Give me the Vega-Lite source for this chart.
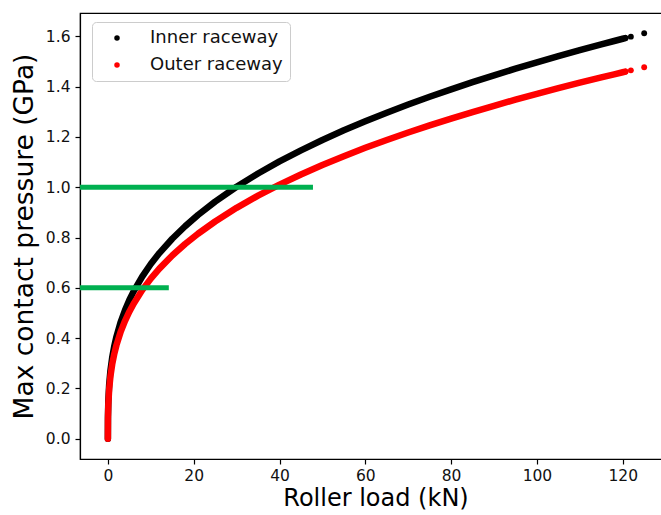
{
  "$schema": "https://vega.github.io/schema/vega-lite/v6.json",
  "width": 591,
  "height": 446,
  "autosize": "none",
  "padding": {"left": 80, "top": 13, "right": 4, "bottom": 56},
  "background": "white",
  "config": {
    "font": "DejaVu Sans",
    "view": {"stroke": "black", "strokeWidth": 1.2},
    "axis": {
      "domainColor": "black", "tickColor": "black", "labelColor": "#111111", "titleColor": "black",
      "labelFont": "DejaVu Sans", "titleFont": "DejaVu Sans",
      "labelFontSize": 15.5, "titleFontSize": 26.5, "titleFontWeight": "normal",
      "tickSize": 5, "grid": false, "domainWidth": 1.2, "tickWidth": 1.2
    }
  },
  "datasets": {
    "curves": [
      {"Q": 0, "p": 0, "s": "Inner raceway"},
      {"Q": 0.02, "p": 0.0875, "s": "Inner raceway"},
      {"Q": 0.1, "p": 0.1497, "s": "Inner raceway"},
      {"Q": 0.3, "p": 0.2158, "s": "Inner raceway"},
      {"Q": 0.6, "p": 0.2719, "s": "Inner raceway"},
      {"Q": 1, "p": 0.3224, "s": "Inner raceway"},
      {"Q": 1.5, "p": 0.3691, "s": "Inner raceway"},
      {"Q": 2, "p": 0.4062, "s": "Inner raceway"},
      {"Q": 3, "p": 0.465, "s": "Inner raceway"},
      {"Q": 4, "p": 0.5118, "s": "Inner raceway"},
      {"Q": 5, "p": 0.5513, "s": "Inner raceway"},
      {"Q": 6, "p": 0.5858, "s": "Inner raceway"},
      {"Q": 8, "p": 0.6448, "s": "Inner raceway"},
      {"Q": 10, "p": 0.6946, "s": "Inner raceway"},
      {"Q": 12, "p": 0.7381, "s": "Inner raceway"},
      {"Q": 15, "p": 0.7951, "s": "Inner raceway"},
      {"Q": 18, "p": 0.8449, "s": "Inner raceway"},
      {"Q": 21, "p": 0.8895, "s": "Inner raceway"},
      {"Q": 25, "p": 0.9427, "s": "Inner raceway"},
      {"Q": 30, "p": 1.0018, "s": "Inner raceway"},
      {"Q": 35, "p": 1.0546, "s": "Inner raceway"},
      {"Q": 40, "p": 1.1026, "s": "Inner raceway"},
      {"Q": 45, "p": 1.1467, "s": "Inner raceway"},
      {"Q": 50, "p": 1.1877, "s": "Inner raceway"},
      {"Q": 55, "p": 1.2261, "s": "Inner raceway"},
      {"Q": 60, "p": 1.2622, "s": "Inner raceway"},
      {"Q": 65, "p": 1.2963, "s": "Inner raceway"},
      {"Q": 70, "p": 1.3287, "s": "Inner raceway"},
      {"Q": 75, "p": 1.3596, "s": "Inner raceway"},
      {"Q": 80, "p": 1.3892, "s": "Inner raceway"},
      {"Q": 85, "p": 1.4175, "s": "Inner raceway"},
      {"Q": 90, "p": 1.4448, "s": "Inner raceway"},
      {"Q": 95, "p": 1.4711, "s": "Inner raceway"},
      {"Q": 100, "p": 1.4965, "s": "Inner raceway"},
      {"Q": 105, "p": 1.521, "s": "Inner raceway"},
      {"Q": 110, "p": 1.5447, "s": "Inner raceway"},
      {"Q": 115, "p": 1.5678, "s": "Inner raceway"},
      {"Q": 118, "p": 1.5813, "s": "Inner raceway"},
      {"Q": 120, "p": 1.5902, "s": "Inner raceway"},
      {"Q": 120.6, "p": 1.5928, "s": "Inner raceway"},
      {"Q": 121.9, "p": 1.5986, "s": "Inner raceway"},
      {"Q": 125, "p": 1.612, "s": "Inner raceway"},
      {"Q": 0, "p": 0, "s": "Outer raceway"},
      {"Q": 0.02, "p": 0.0802, "s": "Outer raceway"},
      {"Q": 0.1, "p": 0.1371, "s": "Outer raceway"},
      {"Q": 0.3, "p": 0.1977, "s": "Outer raceway"},
      {"Q": 0.6, "p": 0.2491, "s": "Outer raceway"},
      {"Q": 1, "p": 0.2954, "s": "Outer raceway"},
      {"Q": 1.5, "p": 0.3381, "s": "Outer raceway"},
      {"Q": 2, "p": 0.3722, "s": "Outer raceway"},
      {"Q": 3, "p": 0.426, "s": "Outer raceway"},
      {"Q": 4, "p": 0.4689, "s": "Outer raceway"},
      {"Q": 5, "p": 0.5051, "s": "Outer raceway"},
      {"Q": 6, "p": 0.5368, "s": "Outer raceway"},
      {"Q": 8, "p": 0.5908, "s": "Outer raceway"},
      {"Q": 10, "p": 0.6364, "s": "Outer raceway"},
      {"Q": 12, "p": 0.6763, "s": "Outer raceway"},
      {"Q": 15, "p": 0.7285, "s": "Outer raceway"},
      {"Q": 18, "p": 0.7742, "s": "Outer raceway"},
      {"Q": 21, "p": 0.815, "s": "Outer raceway"},
      {"Q": 25, "p": 0.8637, "s": "Outer raceway"},
      {"Q": 30, "p": 0.9179, "s": "Outer raceway"},
      {"Q": 35, "p": 0.9663, "s": "Outer raceway"},
      {"Q": 40, "p": 1.0103, "s": "Outer raceway"},
      {"Q": 45, "p": 1.0507, "s": "Outer raceway"},
      {"Q": 50, "p": 1.0883, "s": "Outer raceway"},
      {"Q": 55, "p": 1.1234, "s": "Outer raceway"},
      {"Q": 60, "p": 1.1565, "s": "Outer raceway"},
      {"Q": 65, "p": 1.1877, "s": "Outer raceway"},
      {"Q": 70, "p": 1.2174, "s": "Outer raceway"},
      {"Q": 75, "p": 1.2458, "s": "Outer raceway"},
      {"Q": 80, "p": 1.2729, "s": "Outer raceway"},
      {"Q": 85, "p": 1.2988, "s": "Outer raceway"},
      {"Q": 90, "p": 1.3238, "s": "Outer raceway"},
      {"Q": 95, "p": 1.3479, "s": "Outer raceway"},
      {"Q": 100, "p": 1.3711, "s": "Outer raceway"},
      {"Q": 105, "p": 1.3936, "s": "Outer raceway"},
      {"Q": 110, "p": 1.4154, "s": "Outer raceway"},
      {"Q": 115, "p": 1.4365, "s": "Outer raceway"},
      {"Q": 118, "p": 1.4489, "s": "Outer raceway"},
      {"Q": 120, "p": 1.457, "s": "Outer raceway"},
      {"Q": 120.6, "p": 1.4595, "s": "Outer raceway"},
      {"Q": 121.9, "p": 1.4647, "s": "Outer raceway"},
      {"Q": 125, "p": 1.477, "s": "Outer raceway"}
    ],
    "marks": [
      {"y": 1.0, "x1": -6.5, "x2": 47.8},
      {"y": 0.6, "x1": -6.5, "x2": 14.2}
    ]
  },
  "layer": [
    {
      "data": {"name": "curves"},
      "transform": [{"filter": "datum.Q <= 120.6"}],
      "mark": {"type": "line", "strokeWidth": 6.5, "strokeCap": "round", "strokeJoin": "round", "clip": true},
      "encoding": {
        "x": {"field": "Q", "type": "quantitative", "scale": {"domain": [-6.5, 131.25], "nice": false, "zero": false},
          "axis": {"title": "Roller load (kN)", "values": [0, 20, 40, 60, 80, 100, 120], "labelPadding": 4, "titlePadding": 3, "titleFontSize": 24}},
        "y": {"field": "p", "type": "quantitative", "scale": {"domain": [-0.0806, 1.6926], "nice": false, "zero": false},
          "axis": {"title": "Max contact pressure (GPa)", "values": [0, 0.2, 0.4, 0.6, 0.8, 1.0, 1.2, 1.4, 1.6], "format": ".1f", "labelPadding": 5, "titlePadding": 7}},
        "color": {"field": "s", "type": "nominal", "scale": {"domain": ["Inner raceway", "Outer raceway"], "range": ["black", "red"]},
          "legend": {"title": null, "orient": "none", "legendX": 12, "legendY": 9, "symbolType": "circle", "symbolSize": 30,
            "labelFontSize": 18, "labelFont": "DejaVu Sans", "labelColor": "#111111", "padding": 7, "rowPadding": 9,
            "symbolOffset": 9, "labelOffset": 24, "fillColor": "white", "strokeColor": "#cccccc", "cornerRadius": 4, "symbolStrokeWidth": 0}},
        "order": {"field": "Q", "type": "quantitative"},
        "detail": {"field": "s"}
      }
    },
    {
      "data": {"name": "curves"},
      "transform": [{"filter": "datum.Q > 120"}],
      "mark": {"type": "point", "filled": true, "opacity": 1, "size": 34, "shape": "circle"},
      "encoding": {
        "x": {"field": "Q", "type": "quantitative"},
        "y": {"field": "p", "type": "quantitative"},
        "color": {"field": "s", "type": "nominal"}
      }
    },
    {
      "data": {"name": "marks"},
      "mark": {"type": "rule", "color": "#00b050", "strokeWidth": 5},
      "encoding": {
        "x": {"field": "x1", "type": "quantitative"},
        "x2": {"field": "x2"},
        "y": {"field": "y", "type": "quantitative"}
      }
    }
  ]
}
